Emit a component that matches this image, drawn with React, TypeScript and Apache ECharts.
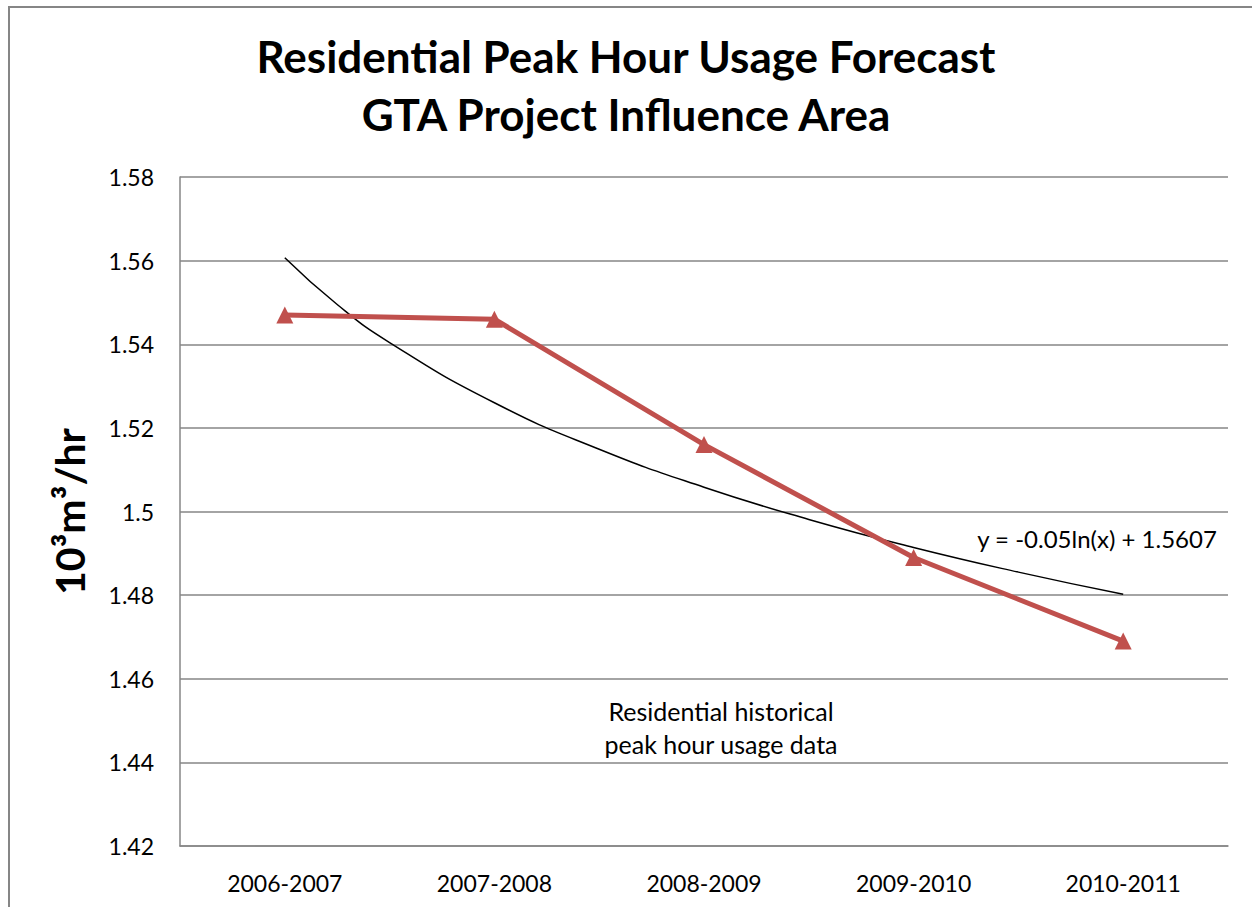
import React, { useEffect, useRef } from "react";
import * as echarts from "echarts";

const categories = ["2006-2007", "2007-2008", "2008-2009", "2009-2010", "2010-2011"];
const usage = [1.547, 1.546, 1.516, 1.489, 1.469];
// trendline points (x position in category units, 1 = first category)
const trendX = [1, 1.25, 1.5, 2, 2.5, 3, 3.5, 4, 4.5, 5];
const trendY = [1.5607, 1.5495, 1.5404, 1.526, 1.5149, 1.5058, 1.4981, 1.4914, 1.4855, 1.4802];
const yTicks = { min: 1.42, max: 1.58, interval: 0.02 };
const titleLines = ["Residential Peak Hour Usage Forecast", "GTA Project Influence Area"];
const yName = "10³m³/hr";
const equationText = "y = -0.05ln(x) + 1.5607";
const seriesNote = "Residential historical\npeak hour usage data";

const FONT = "Lato, 'Open Sans', sans-serif";

export default function App() {
  const ref = useRef<HTMLDivElement>(null);
  useEffect(() => {
    if (!ref.current) return;
    const chart = echarts.init(ref.current, null, { renderer: "svg" });
    chart.setOption({
      animation: false,
      backgroundColor: "#ffffff",
      textStyle: { fontFamily: FONT },
      title: {
        text: titleLines.join("\n"),
        left: "center",
        top: 22,
        textStyle: { fontSize: 44, fontWeight: "bold", color: "#000", lineHeight: 58, fontFamily: FONT },
      },
      grid: { left: 180, right: 24, top: 177, bottom: 61, containLabel: false },
      xAxis: [
        {
          type: "category",
          data: categories,
          boundaryGap: true,
          axisLine: { lineStyle: { color: "#868686", width: 1.5 } },
          axisTick: { show: false },
          axisLabel: { fontSize: 23, color: "#000", margin: 25, fontFamily: FONT },
        },
        {
          type: "value",
          min: 0.5,
          max: 5.5,
          show: false,
          position: "bottom",
        },
      ],
      yAxis: {
        type: "value",
        min: yTicks.min,
        max: yTicks.max,
        interval: yTicks.interval,
        name: yName,
        nameLocation: "middle",
        nameGap: 90,
        nameTextStyle: { fontSize: 41, fontWeight: "bold", color: "#000", fontFamily: FONT },
        axisLine: { show: true, lineStyle: { color: "#868686", width: 1.5 } },
        axisTick: { show: false },
        splitLine: { lineStyle: { color: "#868686", width: 1.5 } },
        axisLabel: {
          fontSize: 23,
          color: "#000",
          margin: 26,
          fontFamily: FONT,
          formatter: (v: number) => String(parseFloat(v.toFixed(2))),
        },
      },
      series: [
        {
          type: "line",
          xAxisIndex: 1,
          data: trendX.map((x, i) => [x, trendY[i]]),
          smooth: true,
          symbol: "none",
          lineStyle: { color: "#000", width: 1.5 },
          z: 3,
        },
        {
          type: "line",
          xAxisIndex: 0,
          data: usage,
          symbol: "triangle",
          symbolSize: 17,
          itemStyle: { color: "#C0504D" },
          lineStyle: { color: "#C0504D", width: 5 },
          z: 4,
        },
      ],
      graphic: [
        {
          type: "rect",
          shape: { x: 9, y: 7, width: 1400, height: 1000 },
          style: { fill: "none", stroke: "#868686", lineWidth: 2 },
          silent: true,
        },
        {
          type: "text",
          x: 1097,
          y: 538,
          style: { text: equationText, fill: "#000", font: `24px ${FONT}`, align: "center", verticalAlign: "middle" },
        },
        {
          type: "text",
          x: 721,
          y: 727,
          style: {
            text: seriesNote,
            fill: "#000",
            font: `25px ${FONT}`,
            lineHeight: 33,
            align: "center",
            verticalAlign: "middle",
          },
        },
      ],
    });
    return () => chart.dispose();
  }, []);
  return (
    <div
      ref={ref}
      style={{ position: "fixed", left: 0, top: 0, width: 1252, height: 907 }}
    />
  );
}
